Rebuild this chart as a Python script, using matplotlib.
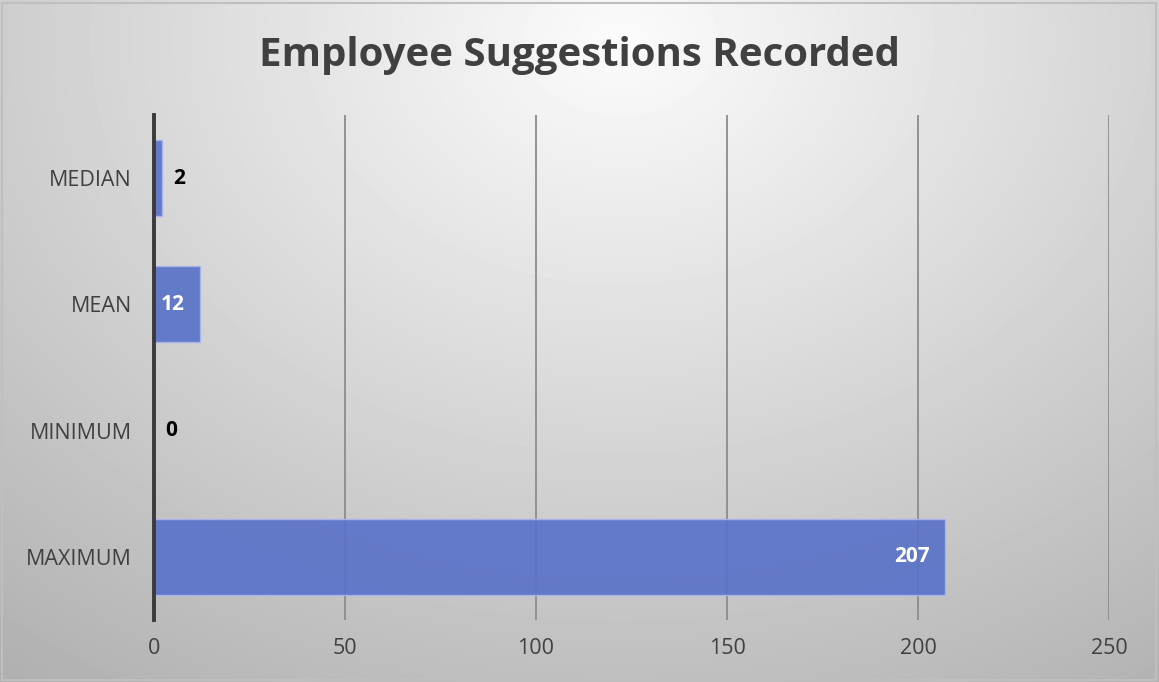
import numpy as np
import matplotlib.pyplot as plt
from matplotlib.patches import Rectangle

# Chart data
categories = ['MEDIAN', 'MEAN', 'MINIMUM', 'MAXIMUM']
values = [2, 12, 0, 207]
label_inside = [False, True, False, True]

plt.rcParams['font.family'] = ['Open Sans', 'DejaVu Sans']

fig = plt.figure(figsize=(11.59, 6.82), dpi=100)

# Radial grey gradient for the background
bg = fig.add_axes([0, 0, 1, 1], zorder=-10)
yy, xx = np.mgrid[0:682, 0:1159]
r = np.sqrt(((xx - 620) / 900.0) ** 2 + ((yy - 40) / 700.0) ** 2)
shade = np.clip(0.985 - 0.26 * r, 0, 1)
bg.imshow(shade, cmap='gray', vmin=0, vmax=1, aspect='auto', extent=[0, 1, 0, 1])
bg.add_patch(Rectangle((0.002, 0.003), 0.995, 0.993, fill=False,
                       edgecolor='#bfbfbf', linewidth=1.5))
bg.set_xlim(0, 1)
bg.set_ylim(0, 1)
bg.axis('off')

ax = fig.add_axes([0.1329, 0.0909, 0.8240, 0.7405])
ax.patch.set_alpha(0)

y = np.arange(len(categories))
ax.barh(y, values, height=0.6, color='#5b73c9', alpha=0.93,
        edgecolor='#a8b6ea', linewidth=1, zorder=3)

for yi, v, inside in zip(y, values, label_inside):
    if inside:
        ax.annotate(str(v), (v, yi), xytext=(-11, 0), textcoords='offset points',
                    ha='right', va='center', color='white',
                    fontsize=15, fontweight='bold', zorder=4)
    else:
        ax.annotate(str(v), (v, yi), xytext=(8, 0), textcoords='offset points',
                    ha='left', va='center', color='black',
                    fontsize=15, fontweight='bold', zorder=4)

ax.set_xlim(0, 250)
ax.set_ylim(len(categories) - 0.5, -0.5)
ax.set_yticks(y)
ax.set_yticklabels(categories)
ax.set_xticks([0, 50, 100, 150, 200, 250])
ax.xaxis.grid(True, color='#8c8c8c', linewidth=1.3, zorder=1)
ax.tick_params(axis='both', length=0, labelsize=15.5, labelcolor='#404040')
ax.tick_params(axis='x', pad=13)
ax.tick_params(axis='y', pad=16)

for s in ['top', 'right', 'bottom']:
    ax.spines[s].set_visible(False)
ax.spines['left'].set_color('#3a3a3a')
ax.spines['left'].set_linewidth(2.8)
ax.spines['left'].set_zorder(5)

fig.text(0.5, 0.919, 'Employee Suggestions Recorded', ha='center', va='center',
         fontsize=29, fontweight='bold', color='#404040')

fig.savefig('out.png', dpi=100)
